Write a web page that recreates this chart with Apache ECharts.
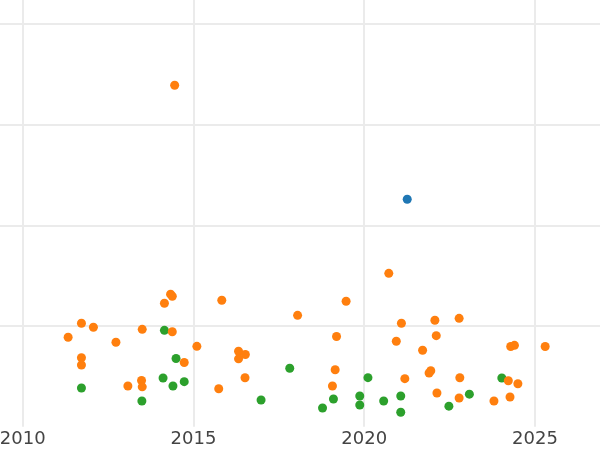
<!DOCTYPE html>
<html>
<head>
<meta charset="utf-8">
<script src="https://cdn.jsdelivr.net/npm/echarts@6/dist/echarts.min.js"></script>
<style>html,body{margin:0;padding:0;background:#fff;overflow:hidden}#c{width:600px;height:450px}</style>
</head>
<body>
<div id="c"></div>
<script>
// x: decimal year, y: value
const orangeX = [2011.33,2011.72,2012.07,2011.72,2011.72,2012.73,2013.08,2013.48,2013.50,2013.50,2014.15,2014.33,2014.38,2014.38,2014.45,2014.73,2015.10,2015.74,2015.83,2016.32,2016.52,2016.32,2016.51,2018.05,2019.07,2019.15,2019.19,2019.47,2020.72,2020.94,2021.09,2021.19,2021.71,2021.90,2021.95,2022.07,2022.11,2022.13,2022.78,2022.80,2022.78,2023.80,2024.22,2024.27,2024.29,2024.40,2024.50,2025.30];
const orangeY = [0.888,1.027,0.987,0.685,0.613,0.838,0.404,0.459,0.396,0.967,1.226,1.316,1.295,0.943,3.390,0.638,0.798,0.377,1.256,0.749,0.717,0.674,0.486,1.106,0.404,0.566,0.896,1.246,1.523,0.848,1.027,0.477,0.759,0.533,0.556,1.057,0.904,0.335,1.076,0.486,0.285,0.255,0.456,0.295,0.796,0.808,0.426,0.796];
const greenX = [2011.72,2013.49,2014.11,2014.15,2014.40,2014.49,2014.73,2016.98,2017.82,2018.78,2019.10,2019.87,2019.87,2020.11,2020.57,2021.07,2021.07,2022.48,2023.08,2024.03];
const greenY = [0.384,0.255,0.484,0.957,0.404,0.677,0.447,0.265,0.580,0.186,0.275,0.305,0.215,0.487,0.255,0.305,0.143,0.204,0.323,0.484];
const blueX = [2021.26];
const blueY = [2.258];
const xTicks = [2010, 2015, 2020, 2025];

const zip = (a, b) => a.map((v, i) => [v, b[i]]);
const chart = echarts.init(document.getElementById('c'), null, {renderer: 'canvas'});
chart.setOption({
  animation: false,
  grid: {left: 0, right: 0, top: 0, bottom: 23.3, containLabel: false, outerBoundsMode: 'none'},
  xAxis: {
    type: 'value', min: 2009.335, max: 2026.905,
    axisLine: {show: false},
    axisTick: {show: false, customValues: xTicks},
    splitLine: {show: true, lineStyle: {color: '#ebebeb', width: 2}},
    axisLabel: {
      color: '#444', fontSize: 18, fontFamily: 'DejaVu Sans', margin: 4,
      customValues: xTicks, hideOverlap: false, showMinLabel: true, showMaxLabel: true,
      formatter: v => String(Math.round(v))
    }
  },
  yAxis: {
    type: 'value', min: 0, max: 4.237, interval: 1,
    axisLine: {show: false}, axisTick: {show: false}, axisLabel: {show: false},
    splitLine: {show: true, showMinLine: false, showMaxLine: false, lineStyle: {color: '#ebebeb', width: 2}}
  },
  series: [
    {type: 'scatter', data: zip(blueX, blueY), symbolSize: 9, itemStyle: {color: '#1f77b4', opacity: 1}},
    {type: 'scatter', data: zip(greenX, greenY), symbolSize: 9, itemStyle: {color: '#2ca02c', opacity: 1}},
    {type: 'scatter', data: zip(orangeX, orangeY), symbolSize: 9, itemStyle: {color: '#ff7f0e', opacity: 1}}
  ]
});
</script>
</body>
</html>
